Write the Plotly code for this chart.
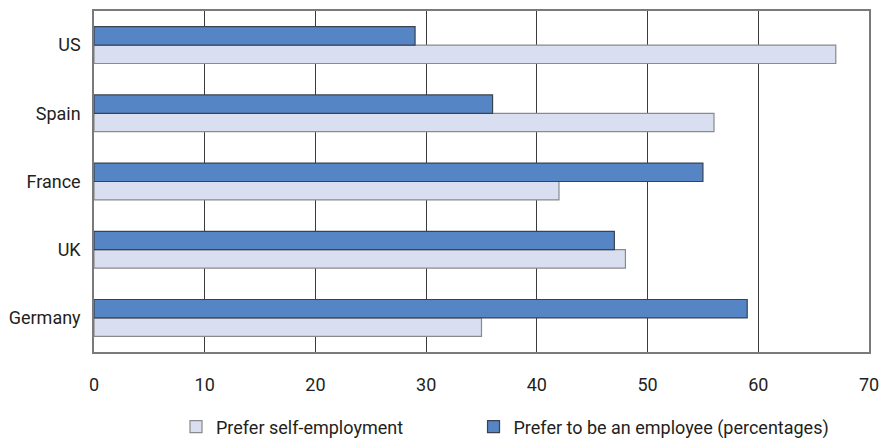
import plotly.graph_objects as go

countries = ["Germany", "UK", "France", "Spain", "US"]
self_employment = [35, 48, 42, 56, 67]
employee = [59, 47, 55, 36, 29]
x_ticks = [0, 10, 20, 30, 40, 50, 60, 70]

FONT = "Roboto, sans-serif"

fig = go.Figure()
fig.add_trace(go.Bar(
    y=countries, x=self_employment, orientation="h",
    name="Prefer self-employment", legend="legend",
    marker=dict(color="#D9DFF1", line=dict(color="#8a8a8a", width=1.2)),
))
fig.add_trace(go.Bar(
    y=countries, x=employee, orientation="h",
    name="Prefer to be an employee (percentages)", legend="legend2",
    marker=dict(color="#5585C5", line=dict(color="#3a4250", width=1.2)),
))

legend_style = dict(orientation="h", y=-0.22, yanchor="middle", xanchor="left",
                    font=dict(family=FONT, size=18, color="#231f20"),
                    bgcolor="rgba(0,0,0,0)")

fig.update_layout(
    width=889, height=438,
    margin=dict(l=94, r=20, t=11, b=86, autoexpand=False),
    paper_bgcolor="white", plot_bgcolor="white",
    barmode="group", bargap=0.46, bargroupgap=0,
    font=dict(family=FONT, size=18, color="#231f20"),
    showlegend=True,
    legend=dict(x=0.1058, **legend_style),
    legend2=dict(x=0.4897, **legend_style),
    xaxis=dict(range=[0, 70], tickvals=x_ticks, showgrid=True, gridcolor="#3a3a3a",
               gridwidth=1, zeroline=False, showline=True, linecolor="#7a7a7a",
               linewidth=1.5, mirror=True, ticks="", ticklabelstandoff=16,
               automargin=False),
    yaxis=dict(showgrid=False, zeroline=False, showline=True, linecolor="#7a7a7a",
               linewidth=1.5, mirror=True, ticks="", ticklabelstandoff=8,
               categoryorder="array", categoryarray=countries, automargin=False),
)

fig.write_html("out.html")
